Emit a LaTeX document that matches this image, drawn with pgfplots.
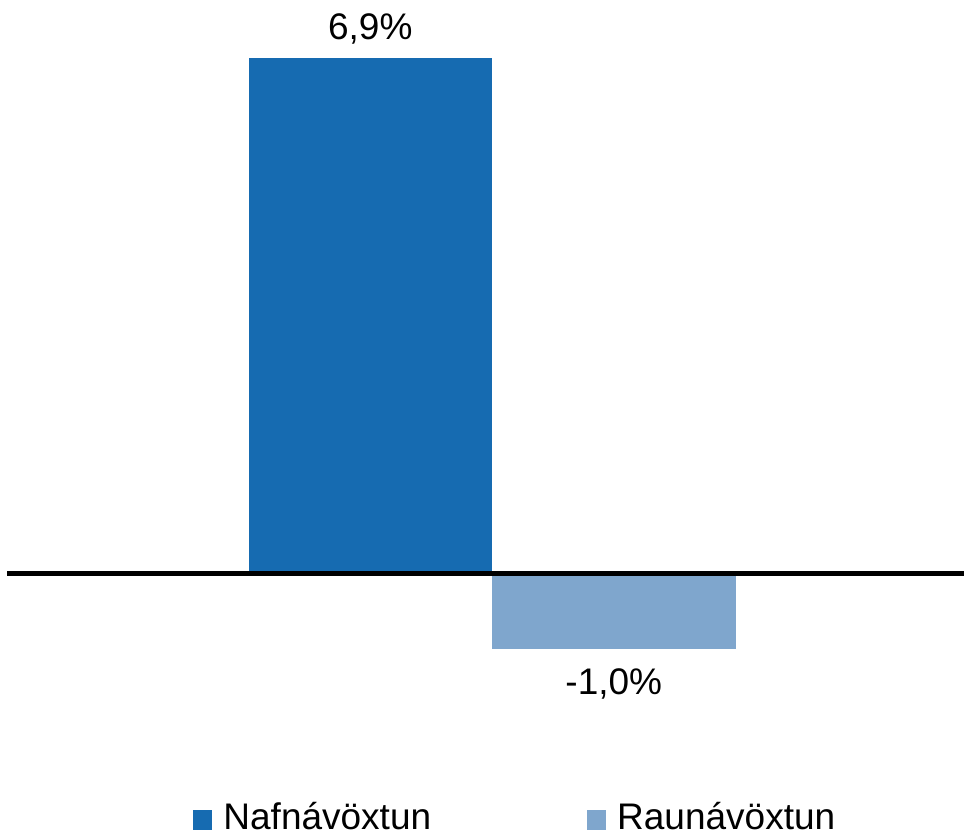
\documentclass[border=0pt]{standalone}
\usepackage{fontspec}
\setmainfont{Liberation Sans}
\usepackage{pgfplots}
\pgfplotsset{compat=1.18}
\definecolor{nafn}{HTML}{166BB1}
\definecolor{raun}{HTML}{7FA6CD}
\begin{document}
\begin{tikzpicture}
\path[use as bounding box] (0,0) rectangle (482pt,419pt);
\begin{axis}[
  at={(3.5pt,69pt)}, anchor=south west,
  scale only axis, width=478.5pt, height=350pt,
  xmin=-1.9918, xmax=1.9384, ymin=-1.686, ymax=7.680,
  hide axis, clip=false,
  ybar, bar width=1,
  legend columns=2,
  legend style={at={(axis description cs:0.1944,-0.19)}, anchor=south west,
    draw=none, fill=none, inner sep=0pt,
    font=\fontsize{18.5}{22}\selectfont,
    cells={anchor=base west}, nodes={inner sep=0pt},
    /tikz/every odd column/.append style={column sep=5.5pt},
    /tikz/every even column/.append style={column sep=78pt}},
  legend image code/.code={\fill[#1] (0pt,0pt) rectangle (9.5pt,10pt);},
  every node near coord/.append style={font=\fontsize{18.5}{22}\selectfont, text=black, inner sep=0pt},
]
\addplot[fill=nafn, draw=none, bar shift=0pt,
  nodes near coords={6,9\%},
  every node near coord/.append style={anchor=base, yshift=9.4pt}]
  coordinates {(-0.5,6.9)};
\addlegendentry{Nafnávöxtun}
\addplot[fill=raun, draw=none, bar shift=0pt,
  nodes near coords={-1,0\%},
  every node near coord/.append style={anchor=base, yshift=-22.85pt}]
  coordinates {(0.5,-1.0)};
\addlegendentry{Raunávöxtun}
\draw[line width=2.5pt, black] ({rel axis cs:0,0}|-{axis cs:0,0}) -- ({rel axis cs:1,0}|-{axis cs:0,0});
\end{axis}
\end{tikzpicture}
\end{document}
